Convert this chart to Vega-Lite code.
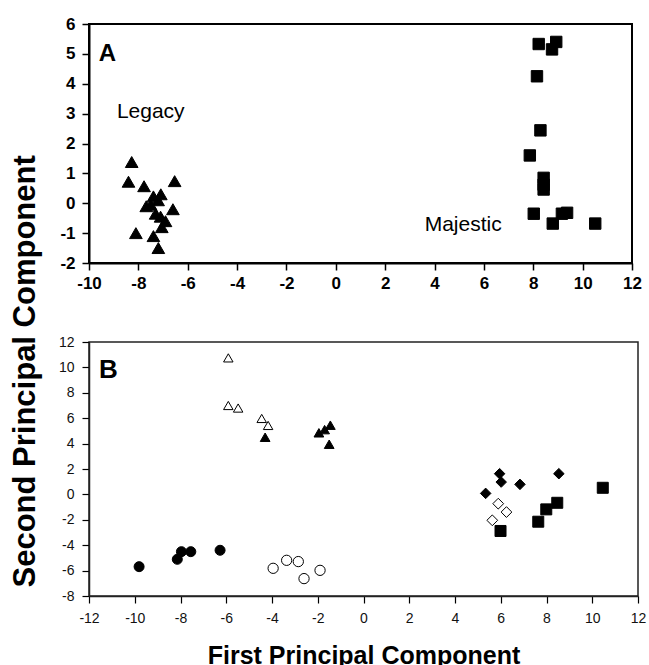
{
  "$schema": "https://vega.github.io/schema/vega-lite/v6.json",
  "background": "white",
  "padding": {"left": 9, "top": 14, "right": 5, "bottom": 0},
  "spacing": 42,
  "resolve": {"scale": {"shape": "independent", "fill": "independent", "size": "independent"}},
  "title": {"text": "Second Principal Component", "orient": "left", "anchor": "middle", "font": "Liberation Sans", "fontSize": 31, "fontWeight": "bold", "color": "black", "offset": 16, "dx": -30},
  "config": {
    "font": "Liberation Sans",
    "view": {"stroke": "black", "strokeWidth": 2},
    "axis": {"grid": false, "domainColor": "black", "tickColor": "black", "labelColor": "black", "labelFont": "Liberation Sans", "titleFont": "Liberation Sans", "labelOverlap": false, "labelExpr": "'' + datum.value"}
  },
  "vconcat": [
    {
      "width": 543,
      "height": 239,
      "encoding": {
        "x": {"field": "pc1", "type": "quantitative", "scale": {"domain": [-10, 12], "nice": false, "zero": false},
              "axis": {"title": null, "values": [-10, -8, -6, -4, -2, 0, 2, 4, 6, 8, 10, 12], "labelFontSize": 17, "labelFontWeight": "bold", "tickSize": 7, "tickWidth": 1.5, "domainWidth": 2, "labelPadding": 5, "labelFlush": false}},
        "y": {"field": "pc2", "type": "quantitative", "scale": {"domain": [-2, 6], "nice": false, "zero": false},
              "axis": {"title": null, "values": [-2, -1, 0, 1, 2, 3, 4, 5, 6], "labelFontSize": 17, "labelFontWeight": "bold", "tickSize": 7, "tickWidth": 1.5, "domainWidth": 2, "labelPadding": 7, "labelFlush": false}}
      },
      "layer": [
        {
          "data": {"values": [
            {"series": "Legacy", "pc1": -8.27, "pc2": 1.38},
            {"series": "Legacy", "pc1": -8.4, "pc2": 0.72},
            {"series": "Legacy", "pc1": -7.77, "pc2": 0.57},
            {"series": "Legacy", "pc1": -6.53, "pc2": 0.74},
            {"series": "Legacy", "pc1": -7.39, "pc2": 0.23},
            {"series": "Legacy", "pc1": -7.09, "pc2": 0.3},
            {"series": "Legacy", "pc1": -7.2, "pc2": 0.1},
            {"series": "Legacy", "pc1": -7.68, "pc2": -0.1},
            {"series": "Legacy", "pc1": -7.5, "pc2": -0.05},
            {"series": "Legacy", "pc1": -6.6, "pc2": -0.2},
            {"series": "Legacy", "pc1": -7.3, "pc2": -0.35},
            {"series": "Legacy", "pc1": -7.1, "pc2": -0.45},
            {"series": "Legacy", "pc1": -6.9, "pc2": -0.6},
            {"series": "Legacy", "pc1": -7.05, "pc2": -0.8},
            {"series": "Legacy", "pc1": -8.1, "pc2": -1.0},
            {"series": "Legacy", "pc1": -7.39, "pc2": -1.1},
            {"series": "Legacy", "pc1": -7.19, "pc2": -1.5},
            {"series": "Majestic", "pc1": 8.22, "pc2": 5.33},
            {"series": "Majestic", "pc1": 8.93, "pc2": 5.4},
            {"series": "Majestic", "pc1": 8.76, "pc2": 5.15},
            {"series": "Majestic", "pc1": 8.15, "pc2": 4.25},
            {"series": "Majestic", "pc1": 8.29, "pc2": 2.44},
            {"series": "Majestic", "pc1": 7.86, "pc2": 1.6},
            {"series": "Majestic", "pc1": 8.42, "pc2": 0.85},
            {"series": "Majestic", "pc1": 8.42, "pc2": 0.62},
            {"series": "Majestic", "pc1": 8.42, "pc2": 0.46},
            {"series": "Majestic", "pc1": 8.02, "pc2": -0.35},
            {"series": "Majestic", "pc1": 8.79, "pc2": -0.68},
            {"series": "Majestic", "pc1": 9.16, "pc2": -0.35},
            {"series": "Majestic", "pc1": 9.37, "pc2": -0.32},
            {"series": "Majestic", "pc1": 10.51, "pc2": -0.68}
          ]},
          "mark": {"type": "point", "filled": true, "opacity": 1, "stroke": "black", "strokeWidth": 1},
          "encoding": {
            "shape": {"field": "series", "type": "nominal", "scale": {"domain": ["Legacy", "Majestic"], "range": ["triangle-up", "square"]}, "legend": null},
            "fill": {"field": "series", "type": "nominal", "scale": {"domain": ["Legacy", "Majestic"], "range": ["black", "black"]}, "legend": null},
            "size": {"field": "series", "type": "nominal", "scale": {"domain": ["Legacy", "Majestic"], "range": [160, 130]}, "legend": null}
          }
        },
        {
          "data": {"values": [
            {"label": "Legacy", "pc1": -8.87, "pc2": 2.86},
            {"label": "Majestic", "pc1": 3.6, "pc2": -0.93}
          ]},
          "mark": {"type": "text", "align": "left", "baseline": "alphabetic", "fontSize": 21, "font": "Liberation Sans", "color": "black"},
          "encoding": {"text": {"field": "label"}}
        },
        {
          "data": {"values": [{"label": "A", "pc1": -9.6, "pc2": 4.76}]},
          "mark": {"type": "text", "align": "left", "baseline": "alphabetic", "fontSize": 24, "fontWeight": "bold", "font": "Liberation Sans", "color": "black"},
          "encoding": {"text": {"field": "label"}}
        }
      ]
    },
    {
      "width": 549,
      "height": 254,
      "view": {"stroke": "#222", "strokeWidth": 1.5},
      "encoding": {
        "x": {"field": "pc1", "type": "quantitative", "scale": {"domain": [-12, 12], "nice": false, "zero": false},
              "axis": {"title": "First Principal Component", "titleFontSize": 25, "titleFontWeight": "bold", "titleColor": "black", "titlePadding": 18, "values": [-12, -10, -8, -6, -4, -2, 0, 2, 4, 6, 8, 10, 12], "labelFontSize": 14, "labelColor": "#111", "tickSize": 7, "tickWidth": 1.2, "domainWidth": 1.5, "domainColor": "#222", "labelPadding": 8, "labelFlush": false}},
        "y": {"field": "pc2", "type": "quantitative", "scale": {"domain": [-8, 12], "nice": false, "zero": false},
              "axis": {"title": null, "values": [-8, -6, -4, -2, 0, 2, 4, 6, 8, 10, 12], "labelFontSize": 14, "labelColor": "#111", "tickSize": 7, "tickWidth": 1.2, "domainWidth": 1.5, "domainColor": "#222", "labelPadding": 8, "labelFlush": false}}
      },
      "layer": [
        {
          "data": {"values": [
            {"series": "Triangles (open)", "pc1": -5.91, "pc2": 10.75},
            {"series": "Triangles (open)", "pc1": -5.91, "pc2": 7.0},
            {"series": "Triangles (open)", "pc1": -5.48, "pc2": 6.8},
            {"series": "Triangles (open)", "pc1": -4.45, "pc2": 5.98},
            {"series": "Triangles (open)", "pc1": -4.17, "pc2": 5.43},
            {"series": "Triangles (filled)", "pc1": -4.3, "pc2": 4.5},
            {"series": "Triangles (filled)", "pc1": -1.95, "pc2": 4.85},
            {"series": "Triangles (filled)", "pc1": -1.7, "pc2": 5.1},
            {"series": "Triangles (filled)", "pc1": -1.45, "pc2": 5.45},
            {"series": "Triangles (filled)", "pc1": -1.5, "pc2": 3.95},
            {"series": "Circles (filled)", "pc1": -9.81, "pc2": -5.69},
            {"series": "Circles (filled)", "pc1": -8.14, "pc2": -5.11},
            {"series": "Circles (filled)", "pc1": -7.96, "pc2": -4.51},
            {"series": "Circles (filled)", "pc1": -7.55, "pc2": -4.51},
            {"series": "Circles (filled)", "pc1": -6.27, "pc2": -4.4},
            {"series": "Circles (open)", "pc1": -3.95, "pc2": -5.82},
            {"series": "Circles (open)", "pc1": -3.36, "pc2": -5.19},
            {"series": "Circles (open)", "pc1": -2.85, "pc2": -5.29},
            {"series": "Circles (open)", "pc1": -2.6, "pc2": -6.63},
            {"series": "Circles (open)", "pc1": -1.9, "pc2": -5.98},
            {"series": "Diamonds (filled)", "pc1": 5.95, "pc2": 1.63},
            {"series": "Diamonds (filled)", "pc1": 6.02, "pc2": 0.97},
            {"series": "Diamonds (filled)", "pc1": 6.84, "pc2": 0.79},
            {"series": "Diamonds (filled)", "pc1": 8.54, "pc2": 1.63},
            {"series": "Diamonds (filled)", "pc1": 5.34, "pc2": 0.08},
            {"series": "Diamonds (open)", "pc1": 5.89, "pc2": -0.73},
            {"series": "Diamonds (open)", "pc1": 6.25, "pc2": -1.39},
            {"series": "Diamonds (open)", "pc1": 5.63, "pc2": -2.04},
            {"series": "Squares (filled)", "pc1": 5.99, "pc2": -2.88},
            {"series": "Squares (filled)", "pc1": 7.64, "pc2": -2.15},
            {"series": "Squares (filled)", "pc1": 7.99, "pc2": -1.18},
            {"series": "Squares (filled)", "pc1": 8.47, "pc2": -0.66},
            {"series": "Squares (filled)", "pc1": 10.46, "pc2": 0.52}
          ]},
          "mark": {"type": "point", "filled": true, "opacity": 1, "stroke": "black", "strokeWidth": 1},
          "encoding": {
            "shape": {"field": "series", "type": "nominal", "scale": {"domain": ["Triangles (open)", "Triangles (filled)", "Circles (filled)", "Circles (open)", "Diamonds (filled)", "Diamonds (open)", "Squares (filled)"], "range": ["triangle-up", "triangle-up", "circle", "circle", "diamond", "diamond", "square"]}, "legend": null},
            "fill": {"field": "series", "type": "nominal", "scale": {"domain": ["Triangles (open)", "Triangles (filled)", "Circles (filled)", "Circles (open)", "Diamonds (filled)", "Diamonds (open)", "Squares (filled)"], "range": ["white", "black", "black", "white", "black", "white", "black"]}, "legend": null},
            "size": {"field": "series", "type": "nominal", "scale": {"domain": ["Triangles (open)", "Triangles (filled)", "Circles (filled)", "Circles (open)", "Diamonds (filled)", "Diamonds (open)", "Squares (filled)"], "range": [90, 121, 100, 70, 110, 70, 100]}, "legend": null}
          }
        },
        {
          "data": {"values": [{"label": "B", "pc1": -11.56, "pc2": 9.17}]},
          "mark": {"type": "text", "align": "left", "baseline": "alphabetic", "fontSize": 26, "fontWeight": "bold", "font": "Liberation Sans", "color": "black"},
          "encoding": {"text": {"field": "label"}}
        }
      ]
    }
  ]
}
